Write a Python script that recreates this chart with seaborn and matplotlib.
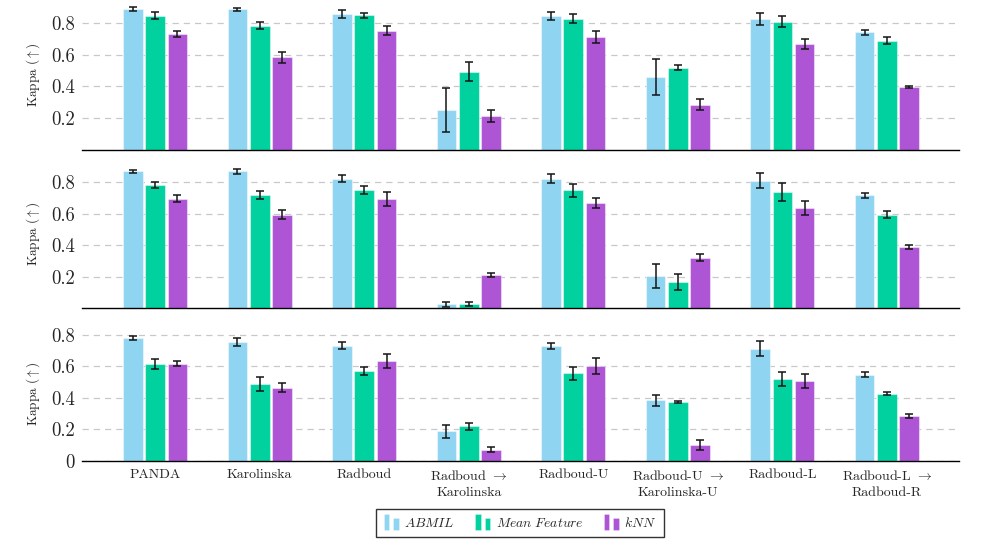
import matplotlib
matplotlib.use("Agg")
import matplotlib.pyplot as plt
import seaborn as sns
import pandas as pd
from matplotlib.patches import Patch, Rectangle
from matplotlib.legend_handler import HandlerBase

# datasets / methods
DATASETS = ["PANDA", "Karolinska", "Radboud", "Radboud $\\rightarrow$\nKarolinska",
            "Radboud-U", "Radboud-U $\\rightarrow$\nKarolinska-U", "Radboud-L",
            "Radboud-L $\\rightarrow$\nRadboud-R"]
METHODS = ["ABMIL", "Mean Feature", "kNN"]
COLORS = ["#8fd4f0", "#00d19f", "#ad55d5"]

# panel 1 (top)
TOP_ABMIL = [0.890, 0.888, 0.857, 0.248, 0.846, 0.461, 0.827, 0.741]
TOP_ABMIL_ERR = [0.013, 0.009, 0.027, 0.139, 0.025, 0.114, 0.037, 0.015]
TOP_MEAN = [0.848, 0.783, 0.850, 0.493, 0.829, 0.518, 0.808, 0.688]
TOP_MEAN_ERR = [0.020, 0.022, 0.017, 0.060, 0.028, 0.018, 0.035, 0.021]
TOP_KNN = [0.730, 0.585, 0.752, 0.215, 0.714, 0.284, 0.669, 0.398]
TOP_KNN_ERR = [0.019, 0.035, 0.027, 0.038, 0.037, 0.037, 0.032, 0.006]

# panel 2 (middle)
MID_ABMIL = [0.869, 0.867, 0.821, 0.025, 0.821, 0.206, 0.808, 0.716]
MID_ABMIL_ERR = [0.010, 0.016, 0.022, 0.018, 0.029, 0.076, 0.049, 0.016]
MID_MEAN = [0.779, 0.718, 0.747, 0.027, 0.747, 0.166, 0.735, 0.594]
MID_MEAN_ERR = [0.019, 0.024, 0.026, 0.014, 0.040, 0.050, 0.056, 0.021]
MID_KNN = [0.695, 0.592, 0.693, 0.211, 0.667, 0.322, 0.634, 0.389]
MID_KNN_ERR = [0.022, 0.028, 0.042, 0.014, 0.029, 0.024, 0.043, 0.011]

# panel 3 (bottom)
BOT_ABMIL = [0.777, 0.754, 0.731, 0.189, 0.726, 0.383, 0.712, 0.547]
BOT_ABMIL_ERR = [0.013, 0.027, 0.022, 0.041, 0.020, 0.037, 0.048, 0.015]
BOT_MEAN = [0.613, 0.486, 0.568, 0.219, 0.554, 0.373, 0.518, 0.427]
BOT_MEAN_ERR = [0.032, 0.043, 0.025, 0.023, 0.042, 0.008, 0.046, 0.007]
BOT_KNN = [0.617, 0.465, 0.634, 0.072, 0.600, 0.101, 0.505, 0.284]
BOT_KNN_ERR = [0.015, 0.031, 0.044, 0.014, 0.052, 0.031, 0.044, 0.011]

PANELS = [
    ([TOP_ABMIL, TOP_MEAN, TOP_KNN], [TOP_ABMIL_ERR, TOP_MEAN_ERR, TOP_KNN_ERR]),
    ([MID_ABMIL, MID_MEAN, MID_KNN], [MID_ABMIL_ERR, MID_MEAN_ERR, MID_KNN_ERR]),
    ([BOT_ABMIL, BOT_MEAN, BOT_KNN], [BOT_ABMIL_ERR, BOT_MEAN_ERR, BOT_KNN_ERR]),
]
YMAX = [0.95, 0.95, 0.85]
YTICKS = [[0.2, 0.4, 0.6, 0.8], [0.2, 0.4, 0.6, 0.8], [0, 0.2, 0.4, 0.6, 0.8]]

sns.set_style("white")
plt.rcParams['font.family'] = ['cmr10', 'DejaVu Serif']
plt.rcParams['mathtext.fontset'] = 'cm'
plt.rcParams['axes.formatter.use_mathtext'] = True

W, H = 985, 556
fig = plt.figure(figsize=(W / 100, H / 100), dpi=100)

SCALE = 158.0            # pixels per kappa unit
BOTTOMS = [149.5, 308.4, 461.0]
LEFT, WIDTH = 82, 877


class TwoBarHandler(HandlerBase):
    # pgfplots style legend image: two small bars, the first a bit taller
    def create_artists(self, legend, orig_handle, xdescent, ydescent,
                       width, height, fontsize, trans):
        c = orig_handle.get_facecolor()
        bw = width * 0.34
        r1 = Rectangle((-xdescent, -ydescent - height * 0.15), bw, height * 1.35,
                       facecolor=c, edgecolor=(1, 1, 1, 0.4), lw=0.5,
                       transform=trans)
        r2 = Rectangle((-xdescent + width * 0.58, -ydescent - height * 0.15), bw,
                       height * 1.0, facecolor=c, edgecolor=(1, 1, 1, 0.4),
                       lw=0.5, transform=trans)
        return [r1, r2]


def make_frame(values, errors):
    rows = []
    for m, vals, errs in zip(METHODS, values, errors):
        for d, v, e in zip(DATASETS, vals, errs):
            rows.append({"dataset": d, "method": m, "kappa": v, "err": e})
    return pd.DataFrame(rows)


for i, (values, errors) in enumerate(PANELS):
    h = YMAX[i] * SCALE
    ax = fig.add_axes([LEFT / W, 1 - BOTTOMS[i] / H, WIDTH / W, h / H])
    df = make_frame(values, errors)
    sns.barplot(data=df, x="dataset", y="kappa", hue="method", order=DATASETS,
                hue_order=METHODS, palette=COLORS, saturation=1,
                errorbar=None, width=0.64, gap=0.12,
                edgecolor=(1, 1, 1, 0.45), linewidth=0.8,
                legend=False, ax=ax, zorder=2)
    for cont, m in zip(ax.containers, METHODS):
        sub = df[df.method == m]
        xs = [b.get_x() + b.get_width() / 2 for b in cont]
        ax.errorbar(xs, sub["kappa"], yerr=sub["err"], fmt="none",
                    ecolor="#151515", elinewidth=1.1, capsize=3, capthick=1.1,
                    zorder=3)
    ax.set_xlim(-0.70, 7.69)
    ax.set_ylim(0, YMAX[i])
    ax.set_yticks(YTICKS[i])
    ax.set_yticklabels([("0" if t == 0 else f"{t:.1f}") for t in YTICKS[i]],
                       fontsize=13.5)
    ax.yaxis.grid(True, linestyle=(0, (5, 4)), color="#c8c8c8", lw=0.9,
                  zorder=0)
    ax.set_axisbelow(True)
    ax.set_ylabel("Kappa ($\\uparrow$)", fontsize=9.5)
    ax.yaxis.set_label_coords(-0.046, 0.5)
    for s in ["top", "left", "right"]:
        ax.spines[s].set_visible(False)
    ax.spines["bottom"].set_color("black")
    ax.spines["bottom"].set_linewidth(1.0)
    ax.tick_params(axis="y", length=0, pad=5)
    ax.set_xlabel("")
    if i < 2:
        ax.set_xticklabels([])
        ax.tick_params(axis="x", length=2, width=0.6, colors="#444444")
    else:
        ax.set_xticklabels(DATASETS, fontsize=10, linespacing=1.4)
        ax.tick_params(axis="x", length=2, width=0.6, pad=4)

handles = [Patch(facecolor=c) for c in COLORS]
labels = ["$\\mathit{ABMIL}$", "$\\mathit{Mean\\ Feature}$", "$\\mathit{kNN}$"]
leg = fig.legend(handles, labels, loc="center",
                 bbox_to_anchor=(520 / W, 1 - 523 / H),
                 ncol=3, fontsize=9.8, frameon=True, fancybox=False,
                 edgecolor="black", handler_map={Patch: TwoBarHandler()},
                 handlelength=1.2, handleheight=0.9, columnspacing=1.5,
                 handletextpad=0.3, borderpad=0.55)
leg.get_frame().set_linewidth(1.0)

fig.savefig("out.png", dpi=100)
